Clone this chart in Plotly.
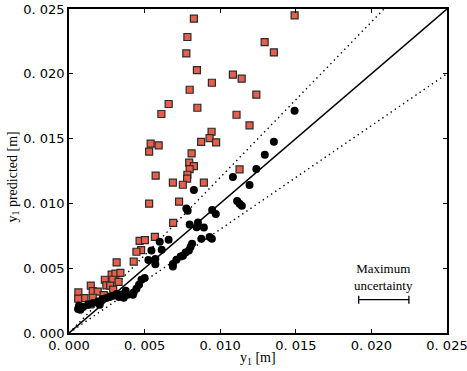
import plotly.graph_objects as go

# measured vs predicted (squares)
sq_x = [0.00826, 0.00783, 0.00776, 0.00846, 0.00945, 0.00798, 0.00659, 0.00611, 0.00849,
        0.01084, 0.01142, 0.01239, 0.01108, 0.01194, 0.01294, 0.01355, 0.01492, 0.00943,
        0.00930, 0.00973, 0.00874, 0.00593, 0.00540, 0.00530, 0.00811, 0.00795, 0.00826,
        0.00798, 0.00783, 0.00781, 0.00573, 0.00687, 0.00753, 0.00892, 0.01128, 0.00728,
        0.00530, 0.00689, 0.00568, 0.00467, 0.00502, 0.00477, 0.00446, 0.00315, 0.00428,
        0.00282, 0.00307, 0.00340, 0.00237, 0.00288, 0.00328, 0.00247, 0.00144, 0.00272,
        0.00157, 0.00190, 0.00062, 0.00292, 0.00102, 0.00061, 0.00157, 0.00229, 0.00135]
sq_y = [0.02425, 0.02284, 0.02157, 0.02029, 0.01931, 0.01877, 0.01767, 0.01690, 0.01738,
        0.01993, 0.01962, 0.01839, 0.01684, 0.01602, 0.02245, 0.02165, 0.02451, 0.01553,
        0.01503, 0.01471, 0.01474, 0.01448, 0.01461, 0.01399, 0.01386, 0.01314, 0.01287,
        0.01265, 0.01221, 0.01191, 0.01214, 0.01160, 0.01144, 0.01160, 0.01262, 0.01013,
        0.00998, 0.00850, 0.00741, 0.00711, 0.00716, 0.00639, 0.00627, 0.00545, 0.00550,
        0.00451, 0.00458, 0.00464, 0.00411, 0.00411, 0.00394, 0.00367, 0.00365, 0.00365,
        0.00323, 0.00319, 0.00313, 0.00334, 0.00269, 0.00265, 0.00272, 0.00293, 0.00221]

# circles
ci_x = [0.01492, 0.01355, 0.01295, 0.01239, 0.01084, 0.01194, 0.00826, 0.01112, 0.01128,
        0.01143, 0.00776, 0.00785, 0.00947, 0.00971, 0.00853, 0.00798, 0.00844, 0.00892,
        0.00930, 0.00945, 0.00875, 0.00659, 0.00600, 0.00814, 0.00804, 0.00793, 0.00771,
        0.00754, 0.00738, 0.00710, 0.00687, 0.00687, 0.00545, 0.00613, 0.00525, 0.00571,
        0.00571, 0.00500, 0.00479, 0.00463, 0.00446, 0.00428, 0.00423, 0.00388, 0.00375,
        0.00362, 0.00346, 0.00330, 0.00317, 0.00291, 0.00269, 0.00247, 0.00221, 0.00203,
        0.00192, 0.00159, 0.00126, 0.00093, 0.00066, 0.00060, 0.00075]
ci_y = [0.01715, 0.01476, 0.01376, 0.01265, 0.01204, 0.01142, 0.01103, 0.01018, 0.00998,
        0.00981, 0.00961, 0.00944, 0.00949, 0.00919, 0.00853, 0.00837, 0.00816, 0.00814,
        0.00741, 0.00728, 0.00728, 0.00720, 0.00704, 0.00688, 0.00664, 0.00637, 0.00622,
        0.00596, 0.00591, 0.00566, 0.00532, 0.00514, 0.00637, 0.00643, 0.00563, 0.00571,
        0.00531, 0.00424, 0.00411, 0.00373, 0.00342, 0.00313, 0.00296, 0.00296, 0.00326,
        0.00272, 0.00298, 0.00278, 0.00303, 0.00288, 0.00278, 0.00270, 0.00262, 0.00218,
        0.00244, 0.00231, 0.00218, 0.00201, 0.00211, 0.00185, 0.00180]

ticks = [0.0, 0.005, 0.010, 0.015, 0.020, 0.025]
tick_text = ["0. 000", "0. 005", "0. 010", "0. 015", "0. 020", "0. 025"]
ref_x = [0.0, 0.025]
unc_x, unc_y, unc_half = 0.02082, 0.00257, 0.00166

serif = dict(family="Liberation Serif", size=14, color="black")

fig = go.Figure()
fig.add_trace(go.Scatter(x=ref_x, y=ref_x, mode="lines", line=dict(color="black", width=1.5)))
fig.add_trace(go.Scatter(x=ref_x, y=[v * 1.2 for v in ref_x], mode="lines",
                         line=dict(color="black", width=1.4, dash="1.4px,3.6px")))
fig.add_trace(go.Scatter(x=ref_x, y=[v * 0.8 for v in ref_x], mode="lines",
                         line=dict(color="black", width=1.4, dash="1.4px,3.6px")))
fig.add_trace(go.Scatter(x=sq_x, y=sq_y, mode="markers",
                         marker=dict(symbol="square", size=7, color="#E5604C",
                                     line=dict(color="#2a2a2a", width=1.2))))
fig.add_trace(go.Scatter(x=ci_x, y=ci_y, mode="markers",
                         marker=dict(symbol="circle", size=8, color="black")))
fig.add_trace(go.Scatter(x=[unc_x], y=[unc_y], mode="markers", marker=dict(size=0.1, color="black"),
                         error_x=dict(type="data", array=[unc_half], color="black",
                                      thickness=1.3, width=4)))

fig.add_annotation(x=unc_x, y=unc_y + 0.00175, yanchor="middle", text="Maximum<br>uncertainty",
                   showarrow=False, font=dict(family="Liberation Serif", size=13, color="black"))
# axis titles
fig.add_annotation(x=0.5, y=0, xref="paper", yref="paper", yanchor="middle", yshift=-25,
                   showarrow=False, text="y<sub>1</sub> [m]", font=serif)
fig.add_annotation(x=0, y=0.48, xref="paper", yref="paper", xanchor="center", xshift=-56,
                   showarrow=False, textangle=-90, text="y<sub>1</sub> predicted [m]", font=serif)

axis = dict(range=[0, 0.025], tickvals=ticks, ticktext=tick_text, ticks="inside", ticklen=4,
            tickcolor="black", showline=True, linecolor="black", linewidth=1.5, mirror="ticks",
            showgrid=False, zeroline=False, automargin=False, ticklabeloverflow="allow",
            tickfont=dict(family="DejaVu Sans", size=13, color="black"))
fig.update_xaxes(**axis)
fig.update_yaxes(**axis)

fig.update_layout(width=467, height=371, margin=dict(l=69, r=20, t=9, b=38),
                  plot_bgcolor="white", paper_bgcolor="white", showlegend=False)
fig.write_html("out.html", config={"displayModeBar": False},
               post_script="document.body.style.margin='0';")
